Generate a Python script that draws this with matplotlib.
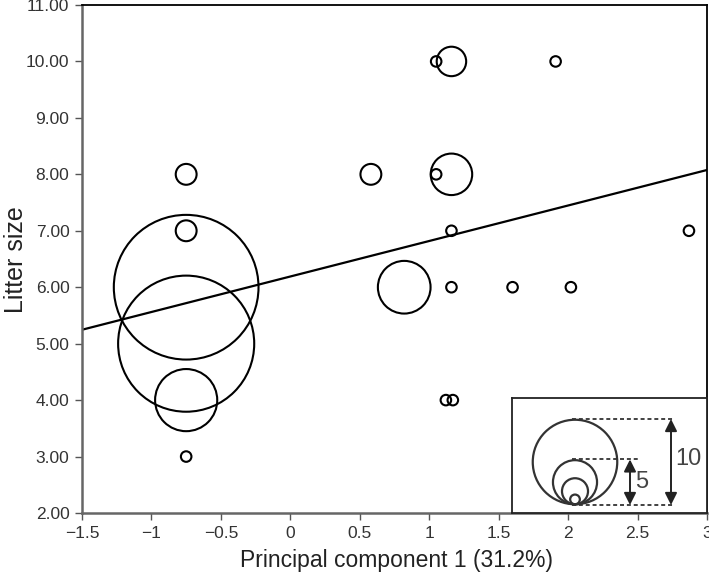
import numpy as np
import matplotlib
matplotlib.use("Agg")
import matplotlib.pyplot as plt
from matplotlib.ticker import FormatStrFormatter

plt.rcParams['font.family'] = ['Liberation Sans', 'DejaVu Sans']

# PC1 score, litter size, bubble size (legend units)
pc1 = [-0.75, -0.75, -0.75, -0.75, -0.75, -0.75, 0.58, 0.82, 1.05, 1.16,
       1.05, 1.16, 1.16, 1.16, 1.12, 1.17, 1.60, 2.02, 1.91, 2.87]
litter = [8, 7, 6, 5, 4, 3, 8, 6, 10, 10, 8, 8, 7, 6, 4, 4, 6, 6, 10, 7]
bubble = [2.6, 2.6, 17.0, 16.0, 7.4, 1.4, 2.6, 6.3, 1.4, 3.6,
          1.4, 5.0, 1.4, 1.4, 1.4, 1.4, 1.4, 1.4, 1.4, 1.4]

# regression line
slope = 0.629
intercept = 6.19

# size key
key_sizes = [10, 5.3, 3.2, 1.3]
key_labels = ["10", "5"]

dpi = 100
px_per_unit = 8.6

def to_s(v):
    # diameter in px -> scatter area in pt^2
    d = v * px_per_unit - 1.5
    return (d * 72.0 / dpi) ** 2

fig = plt.figure(figsize=(7.09, 5.74), dpi=dpi)
W, H = 709, 574
ax = fig.add_axes([82 / W, 1 - 513 / H, (707 - 82) / W, (513 - 5) / H])

ax.scatter(pc1, litter, s=[to_s(b) for b in bubble], facecolors='none',
           edgecolors='black', linewidths=1.5, zorder=3)

xs = np.array([-1.5, 3.0])
ax.plot(xs, intercept + slope * xs, color='black', lw=1.6, zorder=2)

ax.set_xlim(-1.5, 3)
ax.set_ylim(2, 11)
ax.set_xticks([-1.5, -1, -0.5, 0, 0.5, 1, 1.5, 2, 2.5, 3])
ax.set_xticklabels(["\u22121.5", "\u22121", "\u22120.5", "0", "0.5", "1", "1.5", "2", "2.5", "3"])
ax.set_yticks(range(2, 12))
ax.yaxis.set_major_formatter(FormatStrFormatter('%.2f'))
ax.tick_params(direction='out', length=5, width=1, colors='#555555',
               labelsize=12.5, labelcolor='#333333', pad=4)

for side in ['top', 'right']:
    ax.spines[side].set_color('black')
    ax.spines[side].set_linewidth(1.3)
for side in ['left', 'bottom']:
    ax.spines[side].set_color('#666666')
    ax.spines[side].set_linewidth(1.8)

ax.set_xlabel("Principal component 1 (31.2%)", fontsize=16.5, color='#222222')
ax.xaxis.set_label_coords((397 - 82) / 625, -(567 - 513) / 508, transform=ax.transAxes)
ax.xaxis.label.set_va('baseline')
ax.set_ylabel("Litter size", fontsize=18, color='#222222')
ax.yaxis.set_label_coords(-(82 - 16) / 625, (513 - 260) / 508)
ax.yaxis.label.set_va('center')

# size key inset, coordinates in pixels
kx0, ky0, kw, kh = 512, 513, 707 - 512, 513 - 398
kax = fig.add_axes([kx0 / W, 1 - ky0 / H, kw / W, kh / H])
kax.set_xlim(0, kw)
kax.set_ylim(0, kh)
kax.set_xticks([])
kax.set_yticks([])
for side in kax.spines.values():
    side.set_color('#222222')
    side.set_linewidth(1.3)

base = 8
cx = 63
for v in key_sizes:
    d = v * px_per_unit
    kax.scatter([cx], [base + d / 2], s=to_s(v), facecolors='none',
                edgecolors='#333333', linewidths=1.6, zorder=3)

top10 = base + key_sizes[0] * px_per_unit
top5 = base + key_sizes[1] * px_per_unit
dash = (0, (2.2, 1.6))
kax.plot([60, 161], [top10, top10], ls=dash, color='#333333', lw=1.3)
kax.plot([60, 128], [top5, top5], ls=dash, color='#333333', lw=1.3)
kax.plot([60, 161], [base, base], ls=dash, color='#333333', lw=1.3)
arrow = dict(arrowstyle='<|-|>,head_length=0.6,head_width=0.3', color='#222222',
             lw=1.4, mutation_scale=12, shrinkA=0, shrinkB=0)
kax.annotate("", xy=(118, top5), xytext=(118, base), arrowprops=arrow)
kax.annotate("", xy=(159, top10), xytext=(159, base), arrowprops=arrow)
kax.text(123, (top5 + base) / 2, key_labels[1], fontsize=17, color='#444444',
         ha='left', va='center')
kax.text(163, (top10 + base) / 2 + 3, key_labels[0], fontsize=17, color='#444444',
         ha='left', va='center')

fig.savefig("out.png", dpi=dpi)
